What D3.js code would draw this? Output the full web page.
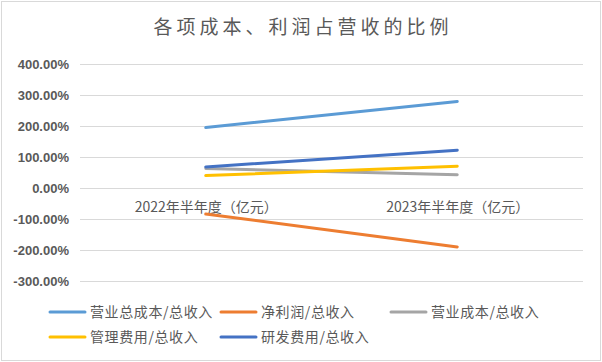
<!DOCTYPE html>
<html>
<head>
<meta charset="utf-8">
<script src="https://cdn.jsdelivr.net/npm/d3@7"></script>
<style>
  body { margin: 0; background: #fff; }
  svg { display: block; font-family: "Noto Sans CJK SC", "Noto Sans", sans-serif; }
</style>
</head>
<body>
<div id="chart"></div>
<script>
// data (percent of total revenue)
const categories = ["2022年半年度（亿元）", "2023年半年度（亿元）"]
const seriesNames = ["营业总成本/总收入", "净利润/总收入", "营业成本/总收入", "管理费用/总收入", "研发费用/总收入"]
const seriesColors = ["#5b9bd5", "#ed7d31", "#a5a5a5", "#ffc000", "#4472c4"]
const totalCost = [195, 279]
const netProfit = [-84, -190]
const opCost = [63, 43]
const adminCost = [40, 70]
const rdCost = [68, 122]
const yTicks = [-300, -200, -100, 0, 100, 200, 300, 400]

const allValues = [totalCost, netProfit, opCost, adminCost, rdCost]

let width = 602
let height = 362
const textColor = "#595959"

let svg = d3.select("#chart")
  .append("svg")
  .attr("width", width)
  .attr("height", height)

// chart border
svg.append("rect")
  .attr("x", 1.5)
  .attr("y", 1.5)
  .attr("width", width - 3)
  .attr("height", height - 3)
  .attr("fill", "#fff")
  .attr("stroke", "#d9d9d9")
  .attr("stroke-width", 1)

svg.append("text")
  .attr("x", width / 2 + 2)
  .attr("y", 34)
  .attr("text-anchor", "middle")
  .attr("fill", textColor)
  .style("font-size", "19px")
  .style("letter-spacing", "4px")
  .text("各项成本、利润占营收的比例")

let x = d3.scalePoint()
  .domain(categories)
  .range([80, 583])
  .padding(0.5)

let y = d3.scaleLinear()
  .domain([-300, 400])
  .range([281, 64])

// gridlines
svg.append("g")
  .selectAll("line")
  .data(yTicks)
  .enter().append("line")
  .attr("x1", 80)
  .attr("x2", 583)
  .attr("y1", d => Math.round(y(d)) + 0.5)
  .attr("y2", d => Math.round(y(d)) + 0.5)
  .attr("stroke", "#d9d9d9")
  .attr("stroke-width", 1)

// y axis labels
let yAxis = svg.append("g")
  .attr("transform", "translate(80,0)")
  .call(d3.axisLeft(y).tickValues(yTicks).tickSize(0).tickPadding(11)
    .tickFormat(d => d.toFixed(2) + "%"))
yAxis.select(".domain").remove()
yAxis.selectAll("text")
  .attr("fill", textColor)
  .style("font-size", "13px")
  .style("font-weight", "bold")
  .style("font-family", "'Liberation Sans', sans-serif")

// category labels sit just under the zero line
let xAxis = svg.append("g")
  .attr("transform", `translate(0,${y(0)})`)
  .call(d3.axisBottom(x).tickSize(0).tickPadding(14))
xAxis.select(".domain").remove()
xAxis.selectAll("text")
  .attr("fill", textColor)
  .style("font-size", "14px")
  .style("font-family", "'Noto Sans CJK SC', sans-serif")

let line = d3.line()
  .x((d, i) => x(categories[i]))
  .y(d => y(d))

svg.append("g")
  .selectAll("path")
  .data(allValues)
  .enter().append("path")
  .attr("d", d => line(d))
  .attr("fill", "none")
  .attr("stroke", (d, i) => seriesColors[i])
  .attr("stroke-width", 3)
  .attr("stroke-linecap", "round")

// legend
const legendX = [50, 221, 391, 50, 221]
const legendY = [312, 312, 312, 337, 337]
let legend = svg.append("g")
  .selectAll("g")
  .data(seriesNames)
  .enter().append("g")
  .attr("transform", (d, i) => `translate(${legendX[i]},${legendY[i]})`)

legend.append("line")
  .attr("x1", 0)
  .attr("x2", 35)
  .attr("stroke", (d, i) => seriesColors[i])
  .attr("stroke-width", 3)
  .attr("stroke-linecap", "round")

legend.append("text")
  .attr("x", 40)
  .attr("dy", "0.35em")
  .attr("fill", textColor)
  .style("font-size", "14px")
  .style("letter-spacing", "0.6px")
  .text(d => d)
</script>
</body>
</html>
